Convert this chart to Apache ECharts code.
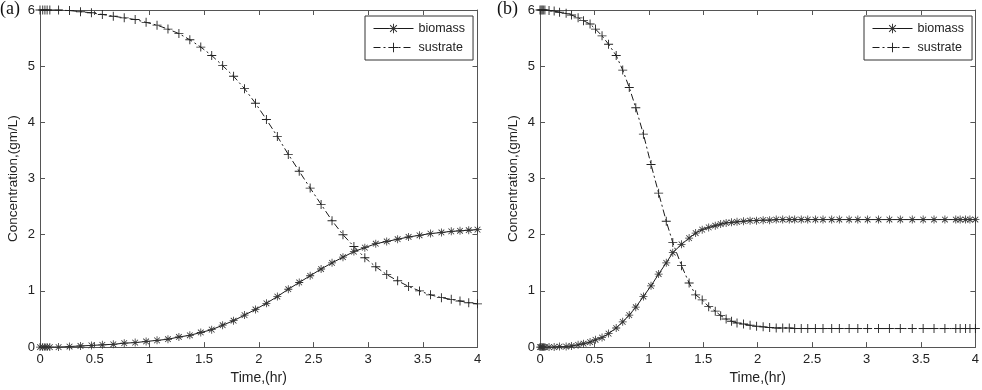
<!DOCTYPE html>
<html>
<head>
<meta charset="utf-8">
<script src="https://cdn.jsdelivr.net/npm/echarts@6/dist/echarts.min.js"></script>
<style>
  html, body { margin: 0; padding: 0; background: #fff; }
  #main { width: 982px; height: 390px; }
</style>
</head>
<body>
<div id="main"></div>
<script>
// panel (a) - time points (hr) and concentrations (gm/L)
var timeA = [0, 0.025, 0.045, 0.065, 0.09, 0.17, 0.27, 0.37, 0.47, 0.57, 0.67, 0.77, 0.87, 0.97,
  1.07, 1.17, 1.27, 1.37, 1.47, 1.57, 1.67, 1.77, 1.87, 1.97, 2.07, 2.17, 2.27, 2.37, 2.47, 2.57,
  2.67, 2.77, 2.87, 2.97, 3.07, 3.17, 3.27, 3.37, 3.47, 3.57, 3.67, 3.76, 3.84, 3.92, 4.0];
var biomassA = [0, 0, 0, 0, 0, 0, 0.01, 0.02, 0.03, 0.04, 0.05, 0.07, 0.08, 0.1,
  0.12, 0.14, 0.18, 0.21, 0.26, 0.31, 0.39, 0.47, 0.57, 0.67, 0.78, 0.9, 1.03, 1.15, 1.27, 1.39,
  1.5, 1.6, 1.7, 1.77, 1.84, 1.88, 1.92, 1.96, 1.99, 2.02, 2.04, 2.06, 2.07, 2.08, 2.09];
var sustrateA = [6, 6, 6, 6, 6, 6, 5.99, 5.97, 5.95, 5.92, 5.89, 5.86, 5.83, 5.78,
  5.73, 5.66, 5.58, 5.47, 5.34, 5.19, 5.01, 4.82, 4.6, 4.34, 4.05, 3.75, 3.43, 3.13, 2.83, 2.54,
  2.25, 2.0, 1.79, 1.59, 1.43, 1.29, 1.18, 1.08, 1.0, 0.93, 0.88, 0.85, 0.82, 0.79, 0.77];

// panel (b)
var timeB = [0, 0.01, 0.02, 0.03, 0.045, 0.083, 0.13, 0.18, 0.24, 0.29, 0.35, 0.40, 0.46, 0.51,
  0.57, 0.63, 0.70, 0.76, 0.82, 0.88, 0.95, 1.02, 1.09, 1.16, 1.22, 1.30, 1.37, 1.43, 1.49, 1.55,
  1.61, 1.66, 1.71, 1.76, 1.81, 1.87, 1.93, 1.99, 2.05, 2.11, 2.17, 2.23, 2.29, 2.34, 2.40, 2.46,
  2.53, 2.60, 2.68, 2.75, 2.84, 2.92, 3.01, 3.11, 3.21, 3.31, 3.42, 3.52, 3.62, 3.72, 3.82, 3.86,
  3.91, 3.95, 4.0];
var biomassB = [0, 0, 0, 0, 0, 0, 0, 0.01, 0.01, 0.02, 0.04, 0.06, 0.09, 0.13,
  0.17, 0.24, 0.34, 0.45, 0.57, 0.71, 0.90, 1.09, 1.30, 1.50, 1.68, 1.83, 1.94, 2.03, 2.09, 2.13,
  2.16, 2.19, 2.21, 2.22, 2.23, 2.24, 2.25, 2.25, 2.26, 2.26, 2.27, 2.27, 2.27, 2.27, 2.27, 2.27,
  2.27, 2.27, 2.27, 2.27, 2.27, 2.27, 2.27, 2.27, 2.27, 2.27, 2.27, 2.27, 2.27, 2.27, 2.27, 2.27,
  2.27, 2.27, 2.27];
var sustrateB = [6, 6, 6, 6, 6, 5.99, 5.98, 5.96, 5.94, 5.91, 5.86, 5.81, 5.75, 5.66,
  5.54, 5.39, 5.19, 4.93, 4.62, 4.26, 3.79, 3.25, 2.74, 2.24, 1.86, 1.45, 1.14, 0.93, 0.84, 0.72,
  0.64, 0.56, 0.50, 0.46, 0.43, 0.41, 0.39, 0.37, 0.36, 0.35, 0.34, 0.34, 0.34, 0.33, 0.33, 0.33,
  0.33, 0.33, 0.33, 0.33, 0.33, 0.33, 0.33, 0.33, 0.33, 0.33, 0.33, 0.33, 0.33, 0.33, 0.33, 0.33,
  0.33, 0.33, 0.33];

var xTicks = [0, 0.5, 1, 1.5, 2, 2.5, 3, 3.5, 4];
var yTicks = [0, 1, 2, 3, 4, 5, 6];

// marker shapes (matlab style '+' and '*')
var plusPath = 'path://M-0.5,-5 h1 v10 h-1 Z M-5,-0.5 h10 v1 h-10 Z';
var starPath = 'path://M-0.5,-5 h1 v10 h-1 Z M-5,-0.5 h10 v1 h-10 Z ' +
  'M-3.9,-3.2 L-3.2,-3.9 L3.9,3.2 L3.2,3.9 Z M3.2,-3.9 L3.9,-3.2 L-3.2,3.9 L-3.9,3.2 Z';

var axisColor = '#555';
var font = 'Liberation Sans, Arial, sans-serif';

function pairs(t, v) {
  return t.map(function (x, i) { return [x, v[i]]; });
}

function xAx(grid, pos, withLabels) {
  return {
    type: 'value', gridIndex: grid, position: pos,
    min: xTicks[0], max: xTicks[xTicks.length - 1], interval: 0.5,
    axisLine: { show: true, onZero: false, lineStyle: { color: axisColor, width: 1 } },
    axisTick: { show: true, inside: true, length: 5, lineStyle: { color: axisColor } },
    axisLabel: { show: withLabels, color: '#222', fontSize: 13, fontFamily: font, margin: 6 },
    splitLine: { show: false },
    name: withLabels ? 'Time,(hr)' : '',
    nameLocation: 'middle', nameGap: 19,
    nameTextStyle: { color: '#222', fontSize: 14, fontFamily: font }
  };
}

function yAx(grid, pos, withLabels) {
  return {
    type: 'value', gridIndex: grid, position: pos,
    min: yTicks[0], max: yTicks[yTicks.length - 1], interval: 1,
    axisLine: { show: true, onZero: false, lineStyle: { color: axisColor, width: 1 } },
    axisTick: { show: true, inside: true, length: 5, lineStyle: { color: axisColor } },
    axisLabel: { show: withLabels, color: '#222', fontSize: 13, fontFamily: font, margin: 5 },
    splitLine: { show: false },
    name: withLabels ? 'Concentration,(gm/L)' : '',
    nameLocation: 'middle', nameGap: 20,
    nameTextStyle: { color: '#222', fontSize: 13.5, fontFamily: font }
  };
}

function bioSeries(xi, yi, data) {
  return {
    name: 'biomass', type: 'line', xAxisIndex: xi, yAxisIndex: yi, data: data,
    symbol: starPath, symbolSize: 8, showAllSymbol: true,
    lineStyle: { color: '#1a1a1a', width: 1, type: 'solid' },
    itemStyle: { color: '#333' }
  };
}

function subSeries(xi, yi, data) {
  return {
    name: 'sustrate', type: 'line', xAxisIndex: xi, yAxisIndex: yi, data: data,
    symbol: plusPath, symbolSize: 9, showAllSymbol: true,
    lineStyle: { color: '#1a1a1a', width: 1, type: [7, 3, 2, 3] },
    itemStyle: { color: '#222' }
  };
}

function legendAt(left) {
  return {
    left: left, top: 16, orient: 'vertical',
    data: ['biomass', 'sustrate'],
    backgroundColor: '#fff', borderColor: '#333', borderWidth: 1,
    padding: [6, 8, 6, 8], itemGap: 6, itemWidth: 40, itemHeight: 12,
    lineStyle: { width: 1, type: 'inherit', color: '#1a1a1a' },
    textStyle: { color: '#222', fontSize: 12.5, fontFamily: font, padding: [0, 0, 0, 0] },
    selectedMode: false
  };
}

var chart = echarts.init(document.getElementById('main'), null, { renderer: 'canvas' });
chart.setOption({
  animation: false,
  backgroundColor: '#fff',
  grid: [
    { left: 40, top: 10, width: 437.5, height: 345 },
    { left: 540, top: 10, width: 436.5, height: 345 }
  ],
  xAxis: [xAx(0, 'bottom', true), xAx(0, 'top', false), xAx(1, 'bottom', true), xAx(1, 'top', false)],
  yAxis: [yAx(0, 'left', true), yAx(0, 'right', false), yAx(1, 'left', true), yAx(1, 'right', false)],
  legend: [legendAt(365), legendAt(864)],
  graphic: [
    { type: 'text', left: 0, top: 0, style: { text: '(a)', font: '18px "Liberation Serif", "Times New Roman", serif', fill: '#111' } },
    { type: 'text', left: 497, top: 0, style: { text: '(b)', font: '18px "Liberation Serif", "Times New Roman", serif', fill: '#111' } }
  ],
  series: [
    bioSeries(0, 0, pairs(timeA, biomassA)),
    subSeries(0, 0, pairs(timeA, sustrateA)),
    bioSeries(2, 2, pairs(timeB, biomassB)),
    subSeries(2, 2, pairs(timeB, sustrateB))
  ]
});
</script>
</body>
</html>
